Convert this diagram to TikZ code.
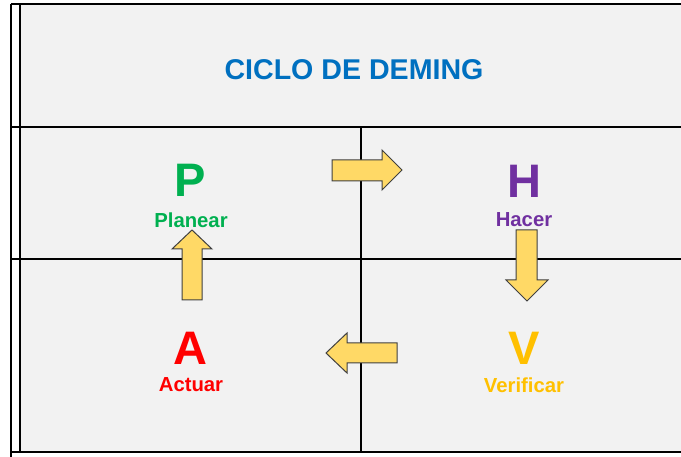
\documentclass[tikz,border=0pt]{standalone}
\usepackage{fontspec}
\setmainfont{Liberation Sans}
\definecolor{bgc}{HTML}{F2F2F2}
\definecolor{titlec}{HTML}{0070C0}
\definecolor{pc}{HTML}{00B050}
\definecolor{hc}{HTML}{7030A0}
\definecolor{ac}{HTML}{FF0000}
\definecolor{vc}{HTML}{FFC000}
\definecolor{arrfill}{HTML}{FFD966}
\definecolor{arrdraw}{HTML}{404040}
\begin{document}
\begin{tikzpicture}[x=1pt,y=-1pt,
  gridline/.style={line width=1.6pt,black},
  blockarrow/.style={fill=arrfill,draw=arrdraw,line width=1pt,line join=miter},
  bigletter/.style={font=\fontsize{47}{47}\selectfont\bfseries,inner sep=0pt},
  word/.style={font=\fontsize{20.3}{20.3}\selectfont\bfseries,inner sep=0pt},
  titletext/.style={font=\fontsize{28.6}{28.6}\selectfont\bfseries,text=titlec,inner sep=0pt}]
\useasboundingbox (0,0) rectangle (681,457);
\fill[bgc] (20,4) rectangle (681,452);
% grid lines
\draw[gridline] (11,4) -- (681,4);
\draw[gridline] (11,127) -- (681,127);
\draw[gridline] (11,259) -- (681,259);
\draw[gridline] (11,452) -- (681,452);
\draw[gridline] (11,4) -- (11,457);
\draw[gridline] (20,4) -- (20,452);
\draw[gridline] (361,127) -- (361,452);
% title
\node[titletext] (title) at (354,69.5) {CICLO DE DEMING};
% letters
\node[bigletter,text=pc] (P) at (190,180) {P};
\node[word,text=pc] (Pw) at (191,220) {Planear};
\node[bigletter,text=hc] (H) at (524,181) {H};
\node[word,text=hc] (Hw) at (524,220) {Hacer};
\node[bigletter,text=ac] (A) at (190,348) {A};
\node[word,text=ac] (Aw) at (191,385) {Actuar};
\node[bigletter,text=vc] (V) at (524,348) {V};
\node[word,text=vc] (Vw) at (524,385) {Verificar};
% arrows
\draw[blockarrow] (332,160) -- (382,160) -- (382,150) -- (402,170) -- (382,190) -- (382,181) -- (332,181) -- cycle;
\draw[blockarrow] (516,230) -- (537,230) -- (537,280) -- (548,280) -- (527,301) -- (506,280) -- (516,280) -- cycle;
\draw[blockarrow] (397,343) -- (347,343) -- (347,333) -- (326,353) -- (347,373) -- (347,363) -- (397,363) -- cycle;
\draw[blockarrow] (182,300) -- (182,249) -- (172,249) -- (192,230) -- (212,249) -- (202,249) -- (202,300) -- cycle;
\end{tikzpicture}
\end{document}
